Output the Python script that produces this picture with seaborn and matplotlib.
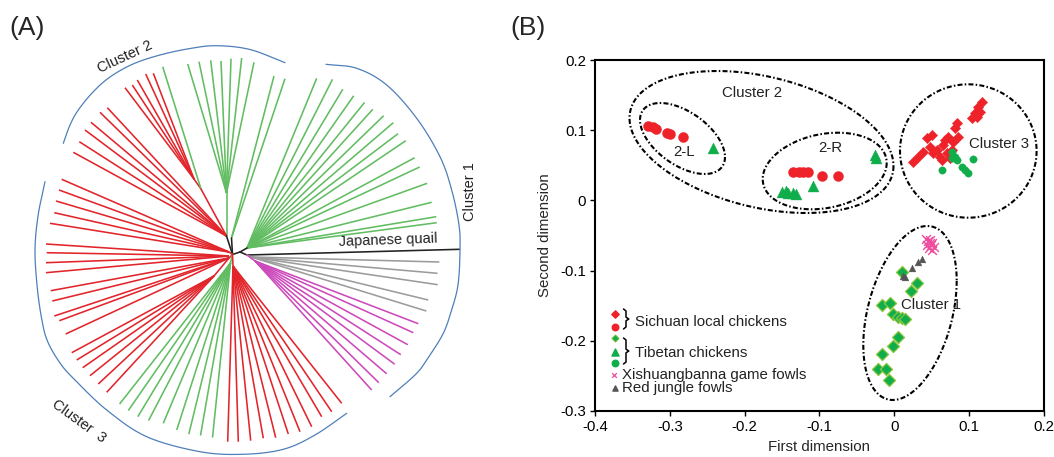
import numpy as np
import matplotlib
matplotlib.use("Agg")
import matplotlib.pyplot as plt
import seaborn as sns

sns.set_theme(style="white")
plt.rcParams['font.family'] = ['Liberation Sans', 'DejaVu Sans']
plt.rcParams['lines.scale_dashes'] = False

# ---------------- Panel B data (MDS coordinates) ----------------
sichuan_dia_x = [0.0254, 0.032, 0.0388, 0.0433, 0.050, 0.0477, 0.052, 0.0566, 0.061, 0.0655, 0.0677,
                 0.0722, 0.070, 0.0767, 0.081, 0.0833, 0.0855, 0.079, 0.0744, 0.0633, 0.1034, 0.1078,
                 0.1122, 0.1168, 0.1145, 0.110]
sichuan_dia_y = [0.0552, 0.0623, 0.0694, 0.0884, 0.093, 0.0766, 0.067, 0.072, 0.062, 0.079, 0.086,
                 0.0908, 0.067, 0.072, 0.1027, 0.110, 0.0908, 0.0836, 0.060, 0.0576, 0.117, 0.124,
                 0.1335, 0.1406, 0.1264, 0.119]
sichuan_cir_x = [-0.329, -0.323, -0.318, -0.304, -0.300, -0.282, -0.135, -0.128, -0.122, -0.115, -0.096, -0.075]
sichuan_cir_y = [0.106, 0.104, 0.101, 0.096, 0.095, 0.091, 0.041, 0.041, 0.041, 0.041, 0.035, 0.035]
tibet_tri_x = [-0.242, -0.150, -0.145, -0.142, -0.135, -0.131, -0.109, -0.026, -0.024]
tibet_tri_y = [0.074, 0.012, 0.013, 0.011, 0.010, 0.009, 0.020, 0.065, 0.060]
tibet_cir_x = [0.0767, 0.081, 0.0835, 0.0767, 0.0633, 0.090, 0.0945, 0.099, 0.1047]
tibet_cir_y = [0.069, 0.062, 0.058, 0.060, 0.0433, 0.048, 0.0433, 0.0386, 0.0586]
tibet_dia_x = [0.0098, 0.0308, 0.0223, -0.0169, -0.0058, -0.0022, 0.0054, 0.0098, 0.0143, 0.0045,
               -0.0022, -0.016, -0.0214, -0.011, -0.0071]
tibet_dia_y = [-0.1015, -0.118, -0.129, -0.149, -0.1466, -0.162, -0.1666, -0.168, -0.1694, -0.194,
               -0.207, -0.219, -0.240, -0.2406, -0.256]
xsbn_x = [0.042, 0.045, 0.048, 0.051, 0.044, 0.049, 0.053, 0.046, 0.050, 0.047]
xsbn_y = [-0.055, -0.058, -0.056, -0.060, -0.063, -0.064, -0.066, -0.068, -0.070, -0.061]
rjf_x = [0.0111, 0.0143, 0.0232, 0.032, 0.0366]
rjf_y = [-0.1077, -0.1087, -0.0967, -0.0883, -0.084]

x_ticks = [-0.4, -0.3, -0.2, -0.1, 0.0, 0.1, 0.2]
x_tick_labels = ['-0.4', '-0.3', '-0.2', '-0.1', '0', '0.1', '0.2']
y_ticks = [-0.3, -0.2, -0.1, 0.0, 0.1, 0.2]
y_tick_labels = ['-0.3', '-0.2', '-0.1', '0', '0.1', '0.2']

legend_labels = ['Sichuan local chickens', 'Tibetan chickens', 'Xishuangbanna game fowls', 'Red jungle fowls']

# ---------------- Panel A data (tree layout, image coordinates) ----------------
c2_green_fan_x = [187.7, 199, 210.7, 221, 231, 241.7, 254]
c2_green_fan_y = [64, 61.7, 60.3, 61, 58.7, 58, 62.3]
c2_green_pair_x = [274, 285]
c2_green_pair_y = [76, 78.7]
c2_red_sub_x = [125, 132.3, 137.3, 145.7, 153.3]
c2_red_sub_y = [87.7, 85, 80, 74, 73.3]
c2_green_single_x = [162.7]
c2_green_single_y = [66.7]
c2_red_fan_x = [107.3, 100, 91, 85, 79.3, 73.3]
c2_red_fan_y = [107.7, 112.3, 122.3, 130, 141.7, 152.3]
c3_red_a_x = [61.7, 59, 56, 54.3, 50]
c3_red_a_y = [179.3, 190, 201, 212.7, 223.3]
c3_red_b_x = [46, 46.7, 46, 46]
c3_red_b_y = [244, 252.7, 262.7, 272.7]
c3_red_c_x = [50.7, 52.3, 54.3, 59.3, 65.7]
c3_red_c_y = [290.7, 301, 316, 320.7, 334]
c3_red_d_x = [71.7, 76.7, 82.7, 90, 98.3, 106.7]
c3_red_d_y = [352.7, 360, 367.7, 375.7, 384, 392.3]
c3_green_x = [119.6, 128.3, 137.8, 148.6, 163.3, 176.7, 188.8, 200.5, 212.5]
c3_green_y = [404, 410.5, 416.7, 420.5, 423.3, 430, 434.2, 435.5, 437.5]
c3_red_e_x = [227.7, 238.3, 250.7, 263.3, 275.7, 288.3, 300, 311.7, 321.7, 331.7, 341.7]
c3_red_e_y = [441.7, 441.7, 440.7, 438.3, 437.7, 434, 431.7, 426.7, 416.7, 411.7, 403.3]
c1_green_x = [316.7, 332.5, 342.8, 353.7, 364.5, 372.8, 383.7, 393.3, 398, 405.8, 414.7, 419.7,
              427.2, 431.7, 436.3, 436.7]
c1_green_y = [78.3, 79.3, 89.3, 95.8, 102.5, 109.3, 115.7, 122.7, 133.7, 140.7, 157.7, 167,
              183.3, 202.3, 216.7, 222.7]
c1_grey_x = [439.3, 437.5, 437.7, 428.3, 426.3]
c1_grey_y = [262, 273.3, 284.7, 300, 311]
c1_pink_x = [418.3, 413.3, 407.8, 400.8, 394.7, 386.7, 378.8, 371.7]
c1_pink_y = [323.7, 332.7, 344.7, 354.7, 364.2, 373.8, 382.7, 390]
quail_x = [460]
quail_y = [249.3]

# ---------------- figure ----------------
W, H = 1054, 457
fig = plt.figure(figsize=(W / 100, H / 100), dpi=100)
fig.patch.set_facecolor('white')

RED_A = '#E2252B'
GREEN_A = '#62BD62'
PINK_A = '#CC4ABB'
GREY_A = '#9C9C9C'
BLACK_A = '#222222'
BLUE_A = '#4F7FB8'

axA = fig.add_axes([0, 0, 495 / W, 1])
axA.set_xlim(0, 495)
axA.set_ylim(H, 0)
axA.set_axis_off()

LW = 1.15


def fan(ax, hub, xs, ys, color):
    for x, y in zip(xs, ys):
        ax.plot([hub[0], x], [hub[1], y], color=color, lw=LW, solid_capstyle='butt')


def edge(ax, a, b, color):
    ax.plot([a[0], b[0]], [a[1], b[1]], color=color, lw=LW, solid_capstyle='round')


N0 = (232.5, 254.5)
N_ul = (226.5, 236)
N_g1 = (226.5, 193)
N_g2 = (231.5, 238)
N_r3 = (201, 189)
N_r3s = (194, 179)
N_l1 = (229, 252)
N_l2 = (229, 256)
N_l3 = (229, 258)
N_l4 = (214, 276)
N_gl = (230.5, 263)
N_rl = (233, 266)
N_r1 = (240, 252)
N_gr = (247, 248)
N_r2 = (247, 255)
N_grey = (251, 257)
N_pink = (255, 261)

fan(axA, N_g1, c2_green_fan_x, c2_green_fan_y, GREEN_A)
edge(axA, N_ul, N_g1, GREEN_A)
fan(axA, N_g2, c2_green_pair_x, c2_green_pair_y, GREEN_A)
fan(axA, N_r3s, c2_red_sub_x, c2_red_sub_y, RED_A)
edge(axA, N_r3, N_r3s, RED_A)
fan(axA, N_r3, c2_green_single_x, c2_green_single_y, GREEN_A)
edge(axA, N_ul, N_r3, RED_A)
fan(axA, N_ul, c2_red_fan_x, c2_red_fan_y, RED_A)
fan(axA, N_l1, c3_red_a_x, c3_red_a_y, RED_A)
fan(axA, N_l2, c3_red_b_x, c3_red_b_y, RED_A)
fan(axA, N_l3, c3_red_c_x, c3_red_c_y, RED_A)
fan(axA, N_l4, c3_red_d_x, c3_red_d_y, RED_A)
edge(axA, N_l3, N_l4, RED_A)
fan(axA, N_gl, c3_green_x, c3_green_y, GREEN_A)
fan(axA, N_rl, c3_red_e_x, c3_red_e_y, RED_A)
fan(axA, N_gr, c1_green_x, c1_green_y, GREEN_A)
fan(axA, N_grey, c1_grey_x, c1_grey_y, GREY_A)
fan(axA, N_pink, c1_pink_x, c1_pink_y, PINK_A)
fan(axA, N_r2, quail_x, quail_y, BLACK_A)
for a, b in [(N0, N_ul), (N0, N_g2), (N0, N_r1), (N_r1, N_gr), (N_r1, N_r2)]:
    edge(axA, a, b, BLACK_A)
edge(axA, N0, N_l1, RED_A)
edge(axA, N0, N_l3, RED_A)
edge(axA, N0, N_gl, GREEN_A)
edge(axA, N0, N_rl, RED_A)
edge(axA, N_r2, N_grey, GREY_A)
edge(axA, N_r2, N_pink, PINK_A)


def smooth(xs, ys, n=24):
    P = np.column_stack([xs, ys]).astype(float)
    P = np.vstack([2 * P[0] - P[1], P, 2 * P[-1] - P[-2]])
    out = []
    t = np.linspace(0, 1, n, endpoint=False)[:, None]
    for i in range(1, len(P) - 2):
        p0, p1, p2, p3 = P[i - 1], P[i], P[i + 1], P[i + 2]
        out.append(0.5 * ((2 * p1) + (-p0 + p2) * t + (2 * p0 - 5 * p1 + 4 * p2 - p3) * t ** 2
                          + (-p0 + 3 * p1 - 3 * p2 + p3) * t ** 3))
    out.append(P[-2][None, :])
    return np.vstack(out)


arc2 = smooth([63.3, 70, 78.3, 93, 110, 133, 160, 190, 216.7, 250, 285],
              [143.3, 125, 110, 92, 77, 64, 55, 48.5, 45.7, 49.5, 62.7])
arc1 = smooth([326, 356.7, 386.7, 416.7, 440, 451.7, 459, 460, 458, 451, 443.3, 430, 416.7, 390],
              [64.3, 68.3, 85, 118.3, 156.7, 190, 225, 250, 285, 312, 333.3, 355, 373.3, 396.7])
arc3 = smooth([45, 38, 35, 37, 41, 47, 60, 75, 106.7, 146.7, 200, 243.3, 283.3, 315, 346.7],
              [181.7, 216, 250, 285, 315, 340, 363, 380, 410, 436.7, 451.7, 454.3, 449.3, 435, 413.3])
for arc in (arc1, arc2, arc3):
    axA.plot(arc[:, 0], arc[:, 1], color=BLUE_A, lw=0.9)

axA.text(125, 57, 'Cluster 2', rotation=25, ha='center', va='center', fontsize=10.5, color='#222222')
axA.text(470, 192, 'Cluster 1', rotation=90, ha='center', va='center', fontsize=10.5, color='#222222')
axA.text(79, 421, 'Cluster  3', rotation=-36, ha='center', va='center', fontsize=10.5, color='#222222')
axA.text(388, 240.5, 'Japanese quail', rotation=2, ha='center', va='center', fontsize=10.5, color='#222222')

fig.text(9 / W, 1 - 28 / H, '(A)', fontsize=19, ha='left', va='center')
fig.text(510 / W, 1 - 28 / H, '(B)', fontsize=19, ha='left', va='center')

# ---------------- Panel B ----------------
L, R, T, B = 595, 1044, 60, 411
axB = fig.add_axes([L / W, 1 - B / H, (R - L) / W, (B - T) / H])
axB.set_xlim(-0.4, 0.2)
axB.set_ylim(-0.3, 0.2)


def bx(px):
    return -0.4 + (np.asarray(px) - L) * 0.6 / (R - L)


def by(py):
    return 0.2 - (np.asarray(py) - T) * 0.5 / (B - T)


RED = '#EE2229'
GREEN = '#10AD4B'
PINK = '#EE4C9E'
GREY = '#555555'

sns.scatterplot(x=sichuan_cir_x, y=sichuan_cir_y, ax=axB, marker='o', s=52, color=RED,
                edgecolor=RED, linewidth=0.3, zorder=3)
sns.scatterplot(x=sichuan_dia_x, y=sichuan_dia_y, ax=axB, marker='D', s=28, color=RED,
                edgecolor=RED, linewidth=0.3, zorder=3)
sns.scatterplot(x=tibet_tri_x, y=tibet_tri_y, ax=axB, marker='^', s=62, color=GREEN,
                edgecolor=GREEN, linewidth=0.3, zorder=3)
sns.scatterplot(x=tibet_cir_x, y=tibet_cir_y, ax=axB, marker='o', s=28, color=GREEN,
                edgecolor=GREEN, linewidth=0.3, zorder=3)
sns.scatterplot(x=tibet_dia_x, y=tibet_dia_y, ax=axB, marker='D', s=38, color=GREEN,
                edgecolor='#8CC63F', linewidth=0.9, zorder=3)
sns.scatterplot(x=rjf_x, y=rjf_y, ax=axB, marker='^', s=24, color=GREY,
                edgecolor=GREY, linewidth=0.3, zorder=3)
sns.scatterplot(x=xsbn_x, y=xsbn_y, ax=axB, marker='x', s=40, color=PINK, linewidth=1.0, zorder=3)


def ellipse(cx, cy, X, Y, C):
    S = np.array([[X ** 2, C], [C, Y ** 2]])
    Lc = np.linalg.cholesky(S)
    t = np.linspace(0, 2 * np.pi, 400)
    pts = Lc @ np.vstack([np.cos(t), np.sin(t)])
    return bx(cx + pts[0]), by(cy + pts[1])


DASH = (0, (3.6, 1.6, 1.1, 1.6))
for (cx, cy, X, Y, C) in [(761.5, 142, 132, 71, 3168),
                          (682.5, 138.5, 42.5, 35.5, 786),
                          (824.7, 171, 62, 38.3, -500),
                          (968.3, 151, 68.3, 66.7, 0),
                          (910, 313, 46.7, 87, -1500)]:
    ex, ey = ellipse(cx, cy, X, Y, C)
    axB.plot(ex, ey, color='black', lw=1.5, linestyle=DASH, zorder=2)

FS = 10.8
txt = dict(fontsize=FS, color='#222222', va='center')
axB.text(bx(751.7), by(93.3), 'Cluster 2', ha='center', **txt)
axB.text(bx(684), by(151.7), '2-L', ha='center', **txt)
axB.text(bx(830), by(148.3), '2-R', ha='center', **txt)
axB.text(bx(999), by(144.3), 'Cluster 3', ha='center', **txt)
axB.text(bx(931), by(305), 'Cluster 1', ha='center', **txt)

lx = bx(615)
axB.scatter([lx], [by(314.3)], marker='D', s=14, color=RED, zorder=4)
axB.scatter([lx], [by(326.7)], marker='o', s=22, color=RED, zorder=4)
axB.scatter([lx], [by(338.3)], marker='D', s=14, color=GREEN, edgecolor='#8CC63F', linewidth=0.6, zorder=4)
axB.scatter([lx], [by(351.7)], marker='^', s=26, color=GREEN, zorder=4)
axB.scatter([lx], [by(363.3)], marker='o', s=22, color=GREEN, zorder=4)
axB.scatter([bx(613.5)], [by(375)], marker='x', s=12, color=PINK, linewidth=0.9, zorder=4)
axB.scatter([bx(614.5)], [by(388.3)], marker='^', s=14, color=GREY, zorder=4)


def bracket(y1, y2):
    ym = (y1 + y2) / 2
    px = [623.5, 626, 626, 628.8, 626, 626, 623.5]
    py = [y1, y1 + 2, ym - 1.8, ym, ym + 1.8, y2 - 2, y2]
    axB.plot(bx(px), by(py), color='black', lw=1.1)


bracket(309, 329)
bracket(338, 364)
axB.text(bx(635), by(321.7), legend_labels[0], ha='left', **txt)
axB.text(bx(635), by(352.7), legend_labels[1], ha='left', **txt)
axB.text(bx(622.5), by(374.5), legend_labels[2], ha='left', **txt)
axB.text(bx(622.5), by(388.3), legend_labels[3], ha='left', **txt)

axB.set_xticks(x_ticks)
axB.set_xticklabels(x_tick_labels)
axB.set_yticks(y_ticks)
axB.set_yticklabels(y_tick_labels)
axB.tick_params(axis='both', direction='out', length=3.5, width=1, pad=3, labelsize=FS,
                colors='black', bottom=True, left=True, top=False, right=False)
for sp in axB.spines.values():
    sp.set_visible(True)
    sp.set_color('black')
    sp.set_linewidth(1.5)
axB.set_xlabel('First dimension', fontsize=FS, labelpad=4)
axB.set_ylabel('Second dimension', fontsize=FS, labelpad=6)
axB.set_facecolor('white')
axB.grid(False)

fig.savefig('out.png', dpi=100, facecolor='white')
